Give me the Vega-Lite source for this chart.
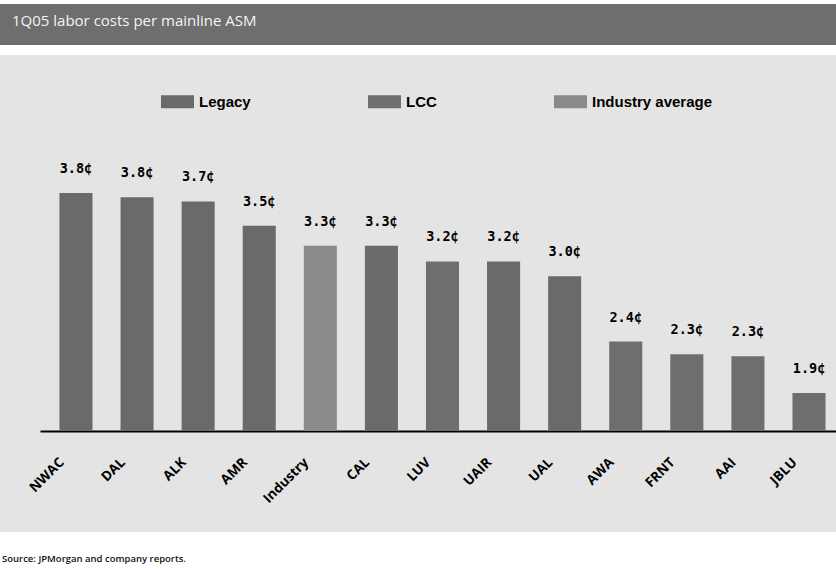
{
  "$schema": "https://vega.github.io/schema/vega-lite/v6.json",
  "background": "white",
  "padding": {"top": 4, "left": 0, "right": 0, "bottom": 0},
  "spacing": 10,
  "title": {
    "text": "Source: JPMorgan and company reports.",
    "orient": "bottom",
    "anchor": "start",
    "offset": 22,
    "dx": 2,
    "font": "Open Sans",
    "fontSize": 9.5,
    "fontWeight": 600,
    "color": "#111111"
  },
  "config": {"view": {"stroke": null}},
  "resolve": {"scale": {"color": "independent"}, "legend": {"color": "independent"}},
  "vconcat": [
    {
      "width": 836,
      "height": 41,
      "view": {"fill": "#6e6e6e", "stroke": null},
      "title": {
        "text": "1Q05 labor costs per mainline ASM",
        "anchor": "start",
        "orient": "top",
        "offset": -20,
        "dy": 17,
        "dx": 12,
        "baseline": "alphabetic",
        "font": "Open Sans",
        "fontSize": 15,
        "fontWeight": "normal",
        "color": "#f4f4f4"
      },
      "data": {"values": [{"k": 1}]},
      "mark": {"type": "rect", "color": "#6e6e6e"},
      "encoding": {}
    },
    {
      "width": 836,
      "height": 477,
      "view": {"fill": "#e4e4e4", "stroke": null},
      "data": {
        "values": [
          {"airline": "NWAC", "group": "Legacy", "value": 3.80, "label": "3.8¢"},
          {"airline": "DAL", "group": "Legacy", "value": 3.76, "label": "3.8¢"},
          {"airline": "ALK", "group": "Legacy", "value": 3.72, "label": "3.7¢"},
          {"airline": "AMR", "group": "Legacy", "value": 3.49, "label": "3.5¢"},
          {"airline": "Industry", "group": "Industry average", "value": 3.30, "label": "3.3¢"},
          {"airline": "CAL", "group": "Legacy", "value": 3.30, "label": "3.3¢"},
          {"airline": "LUV", "group": "LCC", "value": 3.15, "label": "3.2¢"},
          {"airline": "UAIR", "group": "Legacy", "value": 3.15, "label": "3.2¢"},
          {"airline": "UAL", "group": "Legacy", "value": 3.01, "label": "3.0¢"},
          {"airline": "AWA", "group": "LCC", "value": 2.39, "label": "2.4¢"},
          {"airline": "FRNT", "group": "LCC", "value": 2.27, "label": "2.3¢"},
          {"airline": "AAI", "group": "LCC", "value": 2.25, "label": "2.3¢"},
          {"airline": "JBLU", "group": "LCC", "value": 1.90, "label": "1.9¢"}
        ]
      },
      "encoding": {
        "x": {
          "field": "airline",
          "type": "nominal",
          "sort": null,
          "scale": {"range": [40, 836], "paddingInner": 0.459, "paddingOuter": 0.245, "align": 0.65},
          "axis": {
            "orient": "bottom",
            "offset": -101,
            "title": null,
            "domainColor": "#000000",
            "domainWidth": 2,
            "ticks": false,
            "labelAngle": -45,
            "labelAlign": "right",
            "labelBaseline": "top",
            "labelPadding": 24,
            "labelOffset": -19,
            "labelFont": "Open Sans",
            "labelFontSize": 13.5,
            "labelFontWeight": 700,
            "labelColor": "#000000"
          }
        },
        "y": {
          "field": "value",
          "type": "quantitative",
          "scale": {"domain": [0.581, 5.111], "nice": false, "zero": false},
          "axis": null
        }
      },
      "layer": [
        {
          "mark": {"type": "bar"},
          "encoding": {
            "y2": {"datum": 1.54},
            "color": {
              "field": "group",
              "type": "nominal",
              "scale": {"domain": ["Legacy", "LCC", "Industry average"], "range": ["#6a6a6a", "#6e6e6e", "#8a8a8a"]},
              "legend": {
                "orient": "none",
                "legendX": 161,
                "legendY": 30,
                "direction": "horizontal",
                "title": null,
                "padding": 0,
                "symbolType": "M-1,-0.394L1,-0.394L1,0.394L-1,0.394Z",
                "symbolSize": 1089,
                "symbolStrokeWidth": 0,
                "symbolOpacity": 1,
                "labelOffset": 5,
                "columnPadding": 117,
                "labelFont": "Liberation Sans",
                "labelFontSize": 15,
                "labelFontWeight": "bold",
                "labelColor": "#000000"
              }
            }
          }
        },
        {
          "mark": {
            "type": "text",
            "align": "center",
            "baseline": "alphabetic",
            "dy": -20,
            "font": "DejaVu Sans Mono",
            "fontSize": 13.5,
            "fontWeight": "bold",
            "color": "#000000"
          },
          "encoding": {"text": {"field": "label"}}
        }
      ]
    }
  ]
}
